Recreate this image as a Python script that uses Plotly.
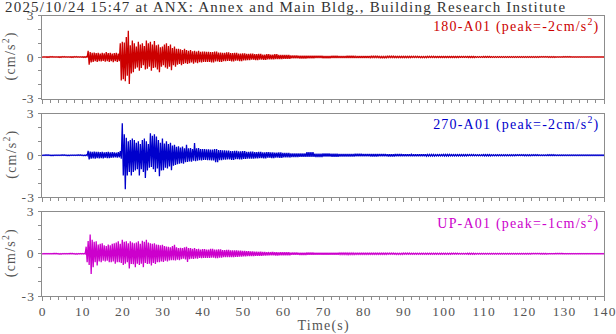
import plotly.graph_objects as go

# ---- record header ----
title_text = "2025/10/24 15:47 at ANX: Annex and Main Bldg., Building Research Institute"
channels = ["180-A01", "270-A01", "UP-A01"]
peaks = [-2, -2, -1]
colors = ["#cc0000", "#0000cc", "#cc00cc"]

# ---- time bins (s): pre-event, strong motion, coda, tail ----
t_pre = list(range(0, 11))
t_main = [11 + 0.5 * i for i in range(59)]          # 11.0 .. 40.0
t_coda = list(range(41, 61))
t_tail = list(range(62, 141, 2))
t_bins = t_pre + t_main + t_coda + t_tail

# ---- per-bin maximum / minimum acceleration (cm/s^2) ----
# 180 component
ns_pre_hi = [0.02, 0.02, 0.03, 0.02, 0.02, 0.03, 0.02, 0.02, 0.03, 0.02, 0.02]
ns_pre_lo = [-0.02, -0.03, -0.02, -0.02, -0.03, -0.02, -0.02, -0.03, -0.02, -0.02, -0.03]
ns_main_hi = [0.03, 0.44, 0.35, 0.30, 0.32, 0.28, 0.30, 0.25, 0.30, 0.27,
              0.35, 0.28, 0.30, 0.25, 0.28, 0.30, 0.25, 1.00, 1.10, 1.05,
              1.45, 1.90, 0.85, 1.20, 1.00, 0.75, 1.10, 0.90, 1.00, 0.80,
              1.20, 1.00, 1.10, 0.90, 1.15, 0.85, 0.90, 0.70, 0.75, 0.90,
              1.00, 0.80, 0.90, 0.65, 0.75, 0.60, 0.60, 0.55, 0.50, 0.60,
              0.50, 0.45, 0.50, 0.42, 0.45, 0.40, 0.45, 0.38, 0.40]
ns_main_lo = [-0.03, -0.55, -0.40, -0.35, -0.30, -0.35, -0.30, -0.32, -0.28, -0.33,
              -0.30, -0.35, -0.30, -0.38, -0.30, -0.35, -0.30, -1.70, -1.60, -1.75,
              -1.35, -1.95, -1.20, -1.10, -0.85, -0.75, -1.00, -0.80, -0.60, -0.90,
              -0.85, -0.70, -1.00, -0.80, -0.75, -0.90, -1.10, -0.70, -0.60, -0.75,
              -0.85, -0.70, -0.95, -0.60, -0.70, -0.55, -0.50, -0.60, -0.50, -0.45,
              -0.50, -0.45, -0.40, -0.48, -0.40, -0.45, -0.38, -0.40, -0.35]
ns_coda_hi = [0.38, 0.35, 0.40, 0.32, 0.30, 0.33, 0.28, 0.30, 0.25, 0.27,
              0.22, 0.25, 0.20, 0.22, 0.18, 0.20, 0.17, 0.20, 0.16, 0.15]
ns_coda_lo = [-0.36, -0.40, -0.32, -0.35, -0.30, -0.28, -0.32, -0.27, -0.30, -0.25,
              -0.22, -0.20, -0.23, -0.19, -0.20, -0.18, -0.17, -0.16, -0.15, -0.13]
ns_tail_hi = [0.11, 0.10, 0.09, 0.10, 0.08, 0.08, 0.07, 0.08, 0.06, 0.07,
              0.06, 0.05, 0.06, 0.05, 0.05, 0.05, 0.04, 0.05, 0.04, 0.04,
              0.04, 0.04, 0.04, 0.03, 0.04, 0.03, 0.03, 0.03, 0.03, 0.03,
              0.03, 0.03, 0.03, 0.02, 0.03, 0.02, 0.02, 0.02, 0.02, 0.02]
ns_tail_lo = [-0.10, -0.11, -0.09, -0.08, -0.09, -0.07, -0.07, -0.06, -0.07, -0.06,
              -0.05, -0.06, -0.05, -0.05, -0.05, -0.04, -0.05, -0.04, -0.04, -0.04,
              -0.04, -0.03, -0.04, -0.03, -0.03, -0.03, -0.03, -0.03, -0.03, -0.03,
              -0.03, -0.02, -0.03, -0.02, -0.02, -0.02, -0.02, -0.02, -0.02, -0.02]

# 270 component
ew_pre_hi = [0.02, 0.03, 0.02, 0.02, 0.02, 0.03, 0.02, 0.02, 0.02, 0.03, 0.02]
ew_pre_lo = [-0.02, -0.02, -0.03, -0.02, -0.02, -0.02, -0.03, -0.02, -0.02, -0.02, -0.03]
ew_main_hi = [0.03, 0.32, 0.27, 0.25, 0.27, 0.24, 0.25, 0.22, 0.24, 0.20,
              0.22, 0.24, 0.20, 0.22, 0.20, 0.18, 0.22, 0.30, 2.30, 1.50,
              1.25, 1.00, 1.10, 1.20, 1.10, 0.90, 1.00, 0.80, 1.10, 1.20,
              1.00, 0.80, 1.58, 1.40, 1.50, 1.35, 1.10, 0.90, 1.20, 0.85,
              1.00, 0.80, 0.90, 0.70, 0.75, 0.60, 0.65, 0.55, 0.63, 0.50,
              0.75, 0.50, 0.52, 0.45, 0.88, 0.50, 0.52, 0.45, 0.44]
ew_main_lo = [-0.03, -0.30, -0.25, -0.22, -0.24, -0.20, -0.22, -0.20, -0.22, -0.18,
              -0.20, -0.20, -0.18, -0.17, -0.16, -0.17, -0.15, -0.25, -1.45, -2.45,
              -1.45, -1.20, -1.45, -1.20, -1.10, -1.00, -1.45, -1.00, -1.20, -1.63,
              -1.10, -0.90, -0.85, -1.00, -1.20, -0.95, -1.50, -1.10, -1.07, -0.90,
              -0.95, -0.80, -1.07, -0.75, -0.70, -0.65, -0.60, -0.58, -0.60, -0.50,
              -0.48, -0.45, -0.46, -0.40, -0.42, -0.40, -0.35, -0.38, -0.34]
ew_coda_hi = [0.42, 0.40, 0.45, 0.38, 0.35, 0.33, 0.30, 0.32, 0.28, 0.30,
              0.25, 0.27, 0.22, 0.25, 0.20, 0.22, 0.20, 0.18, 0.20, 0.17]
ew_coda_lo = [-0.35, -0.38, -0.50, -0.36, -0.32, -0.30, -0.33, -0.28, -0.30, -0.26,
              -0.24, -0.25, -0.22, -0.20, -0.22, -0.18, -0.20, -0.17, -0.18, -0.16]
ew_tail_hi = [0.14, 0.13, 0.22, 0.12, 0.13, 0.11, 0.10, 0.10, 0.11, 0.09,
              0.08, 0.09, 0.07, 0.08, 0.07, 0.06, 0.07, 0.06, 0.05, 0.06,
              0.05, 0.05, 0.05, 0.04, 0.05, 0.04, 0.04, 0.04, 0.04, 0.04,
              0.04, 0.03, 0.04, 0.03, 0.03, 0.03, 0.03, 0.03, 0.03, 0.03]
ew_tail_lo = [-0.13, -0.12, -0.11, -0.13, -0.10, -0.11, -0.09, -0.10, -0.08, -0.08,
              -0.08, -0.07, -0.08, -0.07, -0.06, -0.07, -0.06, -0.06, -0.05, -0.05,
              -0.05, -0.05, -0.04, -0.04, -0.05, -0.04, -0.04, -0.04, -0.03, -0.04,
              -0.03, -0.03, -0.03, -0.03, -0.03, -0.03, -0.03, -0.03, -0.03, -0.03]

# UP component
ud_pre_hi = [0.02, 0.02, 0.02, 0.03, 0.02, 0.02, 0.02, 0.03, 0.02, 0.02, 0.02]
ud_pre_lo = [-0.02, -0.02, -0.02, -0.02, -0.03, -0.02, -0.02, -0.02, -0.03, -0.02, -0.02]
ud_main_hi = [0.50, 0.90, 1.37, 1.00, 0.85, 0.88, 0.65, 0.70, 0.75, 0.60,
              0.55, 0.65, 0.60, 0.70, 0.75, 0.80, 0.88, 0.70, 1.00, 0.85,
              0.88, 0.75, 0.88, 0.80, 0.75, 0.80, 0.88, 0.70, 0.92, 0.85,
              1.00, 0.80, 0.75, 0.70, 0.75, 0.65, 0.63, 0.60, 0.63, 0.55,
              0.52, 0.50, 0.45, 0.55, 0.63, 0.45, 0.40, 0.42, 0.40, 0.45,
              0.50, 0.40, 0.40, 0.35, 0.40, 0.33, 0.35, 0.30, 0.34]
ud_main_lo = [-0.60, -0.80, -1.44, -0.95, -0.60, -0.83, -0.55, -0.60, -0.50, -0.55,
              -0.50, -0.60, -0.60, -0.55, -0.70, -0.60, -0.60, -0.65, -0.80, -0.70,
              -0.60, -1.05, -0.72, -0.75, -0.95, -0.70, -0.80, -0.70, -0.95, -0.65,
              -0.72, -0.70, -0.83, -0.65, -0.72, -0.60, -0.60, -0.55, -0.58, -0.50,
              -0.54, -0.48, -0.46, -0.45, -0.47, -0.42, -0.46, -0.38, -0.35, -0.40,
              -0.58, -0.38, -0.35, -0.36, -0.33, -0.35, -0.30, -0.32, -0.30]
ud_coda_hi = [0.30, 0.35, 0.30, 0.32, 0.26, 0.28, 0.24, 0.25, 0.22, 0.20,
              0.18, 0.17, 0.15, 0.14, 0.13, 0.12, 0.12, 0.11, 0.10, 0.10]
ud_coda_lo = [-0.30, -0.28, -0.32, -0.27, -0.25, -0.24, -0.25, -0.22, -0.20, -0.19,
              -0.17, -0.16, -0.15, -0.14, -0.13, -0.12, -0.11, -0.12, -0.10, -0.10]
ud_tail_hi = [0.08, 0.07, 0.08, 0.07, 0.06, 0.07, 0.06, 0.06, 0.05, 0.05,
              0.05, 0.05, 0.05, 0.04, 0.05, 0.04, 0.04, 0.04, 0.04, 0.04,
              0.04, 0.03, 0.04, 0.03, 0.03, 0.03, 0.03, 0.03, 0.03, 0.03,
              0.03, 0.03, 0.02, 0.03, 0.02, 0.02, 0.02, 0.02, 0.02, 0.02]
ud_tail_lo = [-0.07, -0.08, -0.07, -0.06, -0.07, -0.06, -0.05, -0.06, -0.05, -0.05,
              -0.05, -0.05, -0.04, -0.05, -0.04, -0.04, -0.04, -0.04, -0.04, -0.04,
              -0.03, -0.03, -0.04, -0.03, -0.03, -0.03, -0.03, -0.03, -0.03, -0.03,
              -0.02, -0.03, -0.02, -0.02, -0.02, -0.02, -0.02, -0.02, -0.02, -0.02]

series_hi = [ns_pre_hi + ns_main_hi + ns_coda_hi + ns_tail_hi,
             ew_pre_hi + ew_main_hi + ew_coda_hi + ew_tail_hi,
             ud_pre_hi + ud_main_hi + ud_coda_hi + ud_tail_hi]
series_lo = [ns_pre_lo + ns_main_lo + ns_coda_lo + ns_tail_lo,
             ew_pre_lo + ew_main_lo + ew_coda_lo + ew_tail_lo,
             ud_pre_lo + ud_main_lo + ud_coda_lo + ud_tail_lo]

STROKE_STEP = 0.25  # seconds between successive max/min strokes inside a bin


def trace_path(times, hi, lo):
    """Min/max envelope drawing: each bin is stroked between its max and min."""
    xs, ys = [], []
    for i, t in enumerate(times):
        dt = (times[i + 1] - t) if i + 1 < len(times) else 2.0
        n = max(2, int(round(dt / STROKE_STEP)))
        for j in range(n):
            xs.append(t + j * dt / n)
            ys.append(hi[i] if j % 2 == 0 else lo[i])
    return xs, ys


W, H = 616, 334
M_L, M_R, M_T, M_B = 42, 12, 15, 38
PW = W - M_L - M_R
PH = H - M_T - M_B
# panel extents in pixels from the top of the page
panel_px = [(15.5, 98.5), (113.5, 197.0), (211.5, 296.0)]
domains = [[(H - M_B - b) / PH, (H - M_B - a) / PH] for a, b in panel_px]

FONT = "Liberation Serif, Times New Roman, serif"
AX_COL = "#8c8c8c"
TXT_COL = "#555555"

fig = go.Figure()
for k in range(3):
    xs, ys = trace_path(t_bins, series_hi[k], series_lo[k])
    sfx = "" if k == 0 else str(k + 1)
    fig.add_trace(go.Scatter(x=xs, y=ys, mode="lines",
                             line=dict(color=colors[k], width=1.3),
                             xaxis="x" + sfx, yaxis="y" + sfx,
                             showlegend=False, hoverinfo="skip"))

layout = dict(
    width=W, height=H,
    margin=dict(l=M_L, r=M_R, t=M_T, b=M_B, autoexpand=False),
    paper_bgcolor="white", plot_bgcolor="white",
    font=dict(family=FONT, size=13, color=TXT_COL),
    showlegend=False,
)

for k in range(3):
    sfx = "" if k == 0 else str(k + 1)
    last = (k == 2)
    layout["xaxis" + sfx] = dict(
        domain=[0, 1], range=[0, 140], anchor="y" + sfx, automargin=False,
        tickmode="array", tickvals=list(range(0, 141, 10)),
        showticklabels=last, ticks="outside", ticklen=4, tickcolor=AX_COL,
        ticklabelstandoff=-1,
        minor=dict(dtick=2, ticks="outside", ticklen=3, tickcolor=AX_COL),
        showline=True, linecolor=AX_COL, linewidth=1, mirror=True,
        showgrid=False, zeroline=False,
        tickfont=dict(family=FONT, size=13.5, color=TXT_COL),
    )
    if k > 0:
        layout["xaxis" + sfx]["matches"] = "x"
    layout["yaxis" + sfx] = dict(
        domain=domains[k], range=[-3, 3], anchor="x" + sfx, automargin=False,
        tickmode="array", tickvals=[-3, 0, 3], ticktext=["-3", "0", "3"],
        ticks="outside", ticklen=3, tickcolor=AX_COL, ticklabelstandoff=2,
        minor=dict(tickvals=[-2, -1, 1, 2], ticks="outside", ticklen=3, tickcolor=AX_COL),
        showline=True, linecolor=AX_COL, linewidth=1, mirror=True,
        showgrid=False, zeroline=False,
        tickfont=dict(family=FONT, size=13.5, color=TXT_COL),
    )

fig.update_layout(**layout)


def px_x(p):
    return (p - M_L) / PW


def px_y(p):
    return (H - M_B - p) / PH


annotations = [dict(text=title_text, xref="paper", yref="paper",
                    x=px_x(3), y=px_y(6.5), xanchor="left", yanchor="middle",
                    showarrow=False, font=dict(family=FONT, size=15, color="#333333"))]
label_mid = [25.5, 124.0, 222.5]
for k in range(3):
    annotations.append(dict(
        text=f"{channels[k]} (peak={peaks[k]}cm/s<sup>2</sup>)",
        xref="paper", yref="paper", x=px_x(600), y=px_y(label_mid[k]),
        xanchor="right", yanchor="middle", showarrow=False,
        font=dict(family=FONT, size=14, color=colors[k])))
    a, b = panel_px[k]
    annotations.append(dict(
        text="(cm/s<sup>2</sup>)", textangle=-90,
        xref="paper", yref="paper", x=px_x(10), y=px_y((a + b) / 2),
        xanchor="center", yanchor="middle", showarrow=False,
        font=dict(family=FONT, size=14, color=TXT_COL)))
annotations.append(dict(text="Time(s)", xref="paper", yref="paper",
                        x=px_x((M_L + W - M_R) / 2), y=px_y(326),
                        xanchor="center", yanchor="middle", showarrow=False,
                        font=dict(family=FONT, size=14, color=TXT_COL)))
fig.update_layout(annotations=annotations)

# Slightly open tracking on the serif labels; keep each label's anchor edge fixed.
tracking_js = """
var gd = document.getElementById('{plot_id}');
function track() {
  var nodes = gd.querySelectorAll('svg text');
  nodes.forEach(function (el) {
    var s = el.textContent || '';
    if (!s.length) return;
    var b0 = el.getBBox();
    if (!b0.width) return;
    var inTick = el.closest('.xtick, .ytick');
    var sp = inTick ? 0.2 : 1.2;
    el.style.letterSpacing = sp + 'px';
    var b1 = el.getBBox();
    var dx;
    if (s.indexOf('2025/') === 0) {
      dx = b0.x - b1.x;
    } else if (s.indexOf('peak') >= 0 || el.closest('.ytick')) {
      dx = (b0.x + b0.width) - (b1.x + b1.width) + sp;
    } else {
      dx = (b0.x + b0.width / 2) - (b1.x + b1.width / 2) + sp / 2;
    }
    el.setAttribute('x', parseFloat(el.getAttribute('x') || '0') + dx);
  });
}
track();
"""

fig.write_html("out.html", post_script=tracking_js)
